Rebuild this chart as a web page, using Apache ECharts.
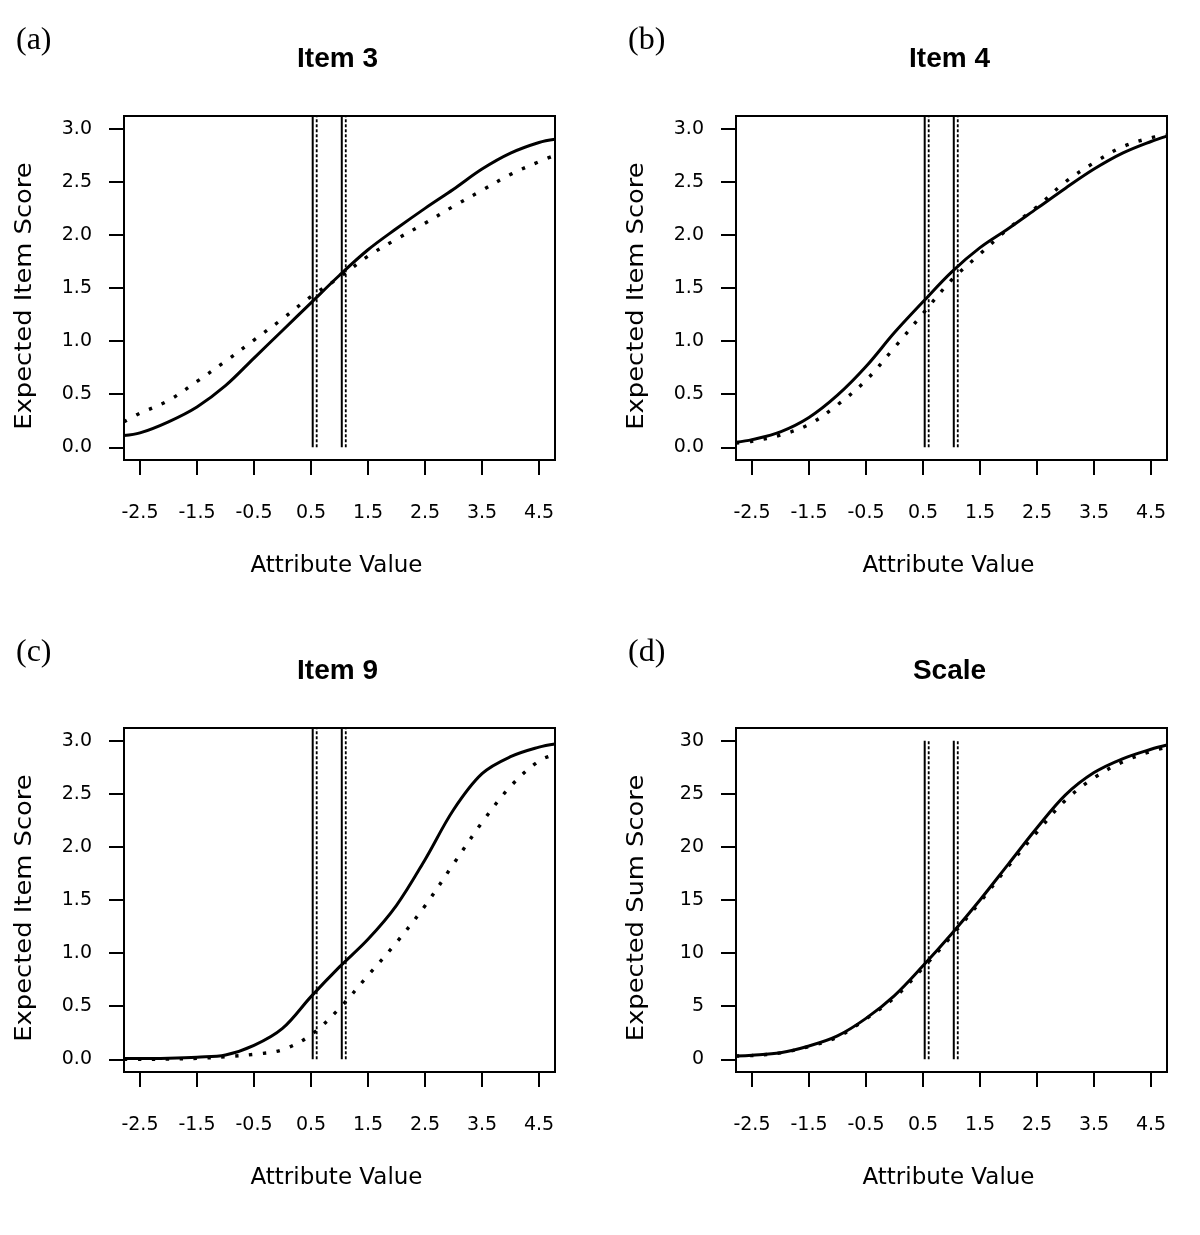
<!DOCTYPE html>
<html><head><meta charset="utf-8">
<script src="https://cdn.jsdelivr.net/npm/echarts@6/dist/echarts.min.js"></script>
<style>html,body{margin:0;padding:0;background:#fff}#c{width:1200px;height:1235px}</style>
</head><body><div id="c"></div>
<script>
// ---- data ----
const attributeX = [-2.78, -2.5, -2.0, -1.5, -1.0, -0.5, 0, 0.5, 1.0, 1.5, 2.0, 2.5, 3.0, 3.5, 4.0, 4.5, 4.78];
const item3Solid  = [0.11, 0.135, 0.24, 0.38, 0.58, 0.84, 1.10, 1.36, 1.62, 1.86, 2.06, 2.25, 2.43, 2.62, 2.77, 2.87, 2.90];
const item3Dotted = [0.24, 0.32, 0.44, 0.62, 0.81, 1.01, 1.21, 1.42, 1.60, 1.80, 1.96, 2.11, 2.27, 2.42, 2.57, 2.69, 2.75];
const item4Solid  = [0.047, 0.072, 0.145, 0.28, 0.49, 0.76, 1.08, 1.37, 1.65, 1.88, 2.06, 2.25, 2.44, 2.62, 2.77, 2.88, 2.93];
const item4Dotted = [0.04, 0.057, 0.115, 0.215, 0.40, 0.63, 0.94, 1.26, 1.575, 1.82, 2.06, 2.265, 2.50, 2.68, 2.83, 2.915, 2.94];
const item9Solid  = [0.006, 0.006, 0.01, 0.02, 0.04, 0.13, 0.29, 0.59, 0.87, 1.13, 1.45, 1.88, 2.35, 2.69, 2.85, 2.94, 2.97];
const item9Dotted = [0.0, 0.0, 0.002, 0.008, 0.024, 0.047, 0.09, 0.23, 0.48, 0.79, 1.10, 1.445, 1.84, 2.23, 2.57, 2.81, 2.87];
const scaleSolid  = [0.31, 0.38, 0.62, 1.25, 2.2, 3.85, 6.0, 8.8, 11.8, 15.0, 18.4, 21.8, 24.9, 27.0, 28.3, 29.2, 29.6];
const scaleDotted = [0.3, 0.35, 0.6, 1.2, 2.1, 3.8, 5.8, 8.6, 11.6, 14.8, 18.2, 21.4, 24.4, 26.5, 28.0, 29.0, 29.4];
const vlineSolidX  = [0.53, 1.04];
const vlineDottedX = [0.60, 1.11];
const xTicks = [-2.5, -1.5, -0.5, 0.5, 1.5, 2.5, 3.5, 4.5];
const itemYTicks = [0, 0.5, 1.0, 1.5, 2.0, 2.5, 3.0];
const scaleYTicks = [0, 5, 10, 15, 20, 25, 30];
const panelLetters = ['(a)', '(b)', '(c)', '(d)'];
const panelTitles = ['Item 3', 'Item 4', 'Item 9', 'Scale'];
const yTitles = ['Expected Item Score', 'Expected Item Score', 'Expected Item Score', 'Expected Sum Score'];
const xTitle = 'Attribute Value';

// ---- layout ----
const solids = [item3Solid, item4Solid, item9Solid, scaleSolid];
const dotteds = [item3Dotted, item4Dotted, item9Dotted, scaleDotted];
const grids = [
  {left: 124, top: 116, width: 431, height: 344},
  {left: 736, top: 116, width: 431, height: 344},
  {left: 124, top: 728, width: 431, height: 344},
  {left: 736, top: 728, width: 431, height: 344}
];
const isScale = [false, false, false, true];
const TICK_FONT = 'DejaVu Sans';

const xAxes = [], yAxes = [], series = [], graphics = [];
grids.forEach((g, i) => {
  g.show = true; g.borderColor = '#000'; g.borderWidth = 2; g.backgroundColor = 'transparent';
  xAxes.push({
    gridIndex: i, type: 'value', min: -2.78, max: 4.78,
    axisLine: {show: false, onZero: false},
    splitLine: {show: false},
    axisTick: {show: true, length: 15, customValues: xTicks, lineStyle: {color: '#000', width: 2}},
    axisLabel: {customValues: xTicks, formatter: v => v.toFixed(1), margin: 44, color: '#000',
      fontFamily: TICK_FONT, fontSize: 19}
  });
  const yt = isScale[i] ? scaleYTicks : itemYTicks;
  yAxes.push({
    gridIndex: i, type: 'value',
    min: isScale[i] ? -1.2 : -0.12, max: isScale[i] ? 31.2 : 3.12,
    axisLine: {show: false, onZero: false},
    splitLine: {show: false},
    axisTick: {show: true, length: 15, customValues: yt, lineStyle: {color: '#000', width: 2}},
    axisLabel: {customValues: yt, formatter: v => isScale[i] ? String(Math.round(v)) : v.toFixed(1),
      margin: 32, color: '#000', fontFamily: TICK_FONT, fontSize: 19}
  });
  const vTop = isScale[i] ? 30 : 3.12;
  vlineSolidX.forEach(x => series.push({
    type: 'line', xAxisIndex: i, yAxisIndex: i, data: [[x, 0], [x, vTop]],
    showSymbol: false, silent: true, lineStyle: {color: '#000', width: 2}
  }));
  vlineDottedX.forEach(x => series.push({
    type: 'line', xAxisIndex: i, yAxisIndex: i, data: [[x, 0], [x, vTop]],
    showSymbol: false, silent: true, lineStyle: {color: '#000', width: 1.8, type: [3, 2]}
  }));
  series.push({
    type: 'line', xAxisIndex: i, yAxisIndex: i,
    data: attributeX.map((x, j) => [x, solids[i][j]]),
    showSymbol: false, smooth: 0.35, lineStyle: {color: '#000', width: 3}
  });
  series.push({
    type: 'line', xAxisIndex: i, yAxisIndex: i,
    data: attributeX.map((x, j) => [x, dotteds[i][j]]),
    showSymbol: false, smooth: 0.35, lineStyle: {color: '#000', width: 3.4, type: [3.4, 10.5], cap: 'butt'}
  });
  const cx = g.left + g.width / 2;
  const rowOff = g.top - 116;
  graphics.push({type: 'text', x: cx - 2, y: 59 + rowOff,
    style: {text: panelTitles[i], font: 'bold 28px "Liberation Sans"', fill: '#000',
      align: 'center', verticalAlign: 'middle', textAlign: 'center', textVerticalAlign: 'middle'}});
  graphics.push({type: 'text', x: g.left - 108, y: 41 + rowOff,
    style: {text: panelLetters[i], font: '32px "Liberation Serif"', fill: '#000',
      align: 'left', verticalAlign: 'middle', textAlign: 'left', textVerticalAlign: 'middle'}});
  graphics.push({type: 'text', x: cx - 3, y: 566 + rowOff,
    style: {text: xTitle, font: '23px "DejaVu Sans"', fill: '#000',
      align: 'center', verticalAlign: 'middle', textAlign: 'center', textVerticalAlign: 'middle'}});
  graphics.push({type: 'text', x: g.left - 99, y: 296 + rowOff, rotation: Math.PI / 2, scaleX: 1.12,
    style: {text: yTitles[i], font: '23px "DejaVu Sans"', fill: '#000',
      align: 'center', verticalAlign: 'middle', textAlign: 'center', textVerticalAlign: 'middle'}});
});

const chart = echarts.init(document.getElementById('c'), null, {renderer: 'canvas'});
chart.setOption({
  animation: false,
  backgroundColor: '#fff',
  grid: grids, xAxis: xAxes, yAxis: yAxes, series: series,
  graphic: {elements: graphics}
});
</script></body></html>
